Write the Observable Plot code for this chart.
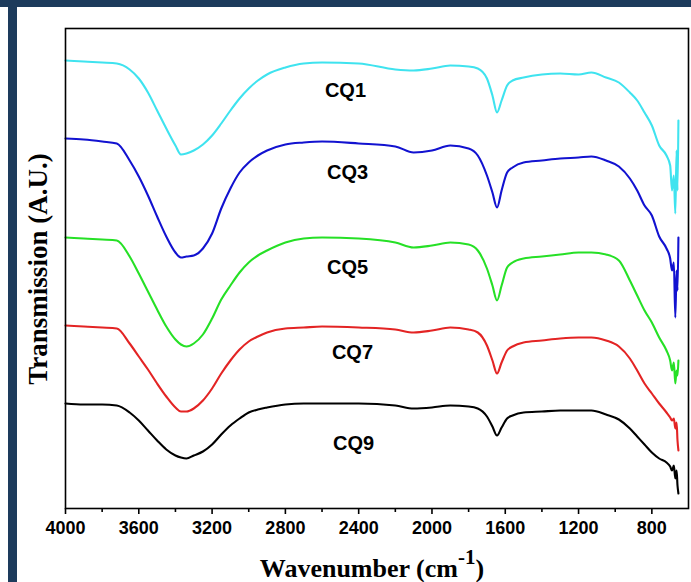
<!DOCTYPE html>
<html>
<head>
<meta charset="utf-8">
<script src="https://cdn.jsdelivr.net/npm/d3@7"></script>
<script src="https://cdn.jsdelivr.net/npm/@observablehq/plot@0.6"></script>
<style>
  html, body { margin: 0; padding: 0; background: #ffffff; }
  #wrap { position: relative; width: 691px; height: 582px; overflow: hidden; background: #ffffff; }
  #chart { position: absolute; left: 0; top: 0; }
  .band { position: absolute; background: #1d3b5c; }
</style>
</head>
<body>
<div id="wrap">
  <div id="chart"></div>
  <div class="band" style="left:0;top:0;width:691px;height:7px;"></div>
  <div class="band" style="left:8px;top:0;width:9px;height:582px;"></div>
</div>
<script>
// Wavenumber grid (cm^-1)
const wavenumber = [4000, 3900, 3800, 3720, 3650, 3600, 3550, 3500, 3450, 3400, 3370, 3340, 3300, 3250, 3200, 3150, 3100, 3050, 3000, 2950, 2900, 2800, 2700, 2600, 2400, 2200, 2100, 2000, 1900, 1800, 1750, 1700, 1670, 1645, 1620, 1590, 1560, 1500, 1400, 1300, 1200, 1130, 1050, 980, 920, 880, 840, 800, 760, 720, 700, 690, 680, 672, 665, 660, 655];

// Transmission (A.U.), curves stacked with offsets
const cq1 = [448, 447, 446, 445, 439, 430, 416, 398, 380, 363, 354, 355, 358, 364, 373, 385, 398, 410, 420, 428, 434, 441, 445, 446, 445, 439, 438, 440, 443, 442, 440, 430, 413, 396, 408, 423, 428, 431, 434, 435, 434, 436, 431, 426, 416, 408, 396, 383, 363, 353, 343, 318, 333, 295, 358, 318, 388];
const cq3 = [370, 369, 367, 365, 348, 332, 313, 292, 272, 256, 251, 252, 253, 260, 275, 300, 320, 336, 346, 353, 358, 364, 366, 367, 365, 362, 356, 358, 363, 360, 353, 333, 316, 301, 318, 336, 341, 346, 348, 350, 351, 352, 348, 342, 330, 318, 303, 293, 272, 260, 250, 238, 246, 191, 238, 218, 271];
const cq5 = [271, 270, 269, 268, 252, 235, 217, 199, 182, 169, 164, 162, 165, 174, 190, 209, 223, 236, 246, 253, 258, 266, 270, 271, 270, 266, 261, 263, 266, 264, 258, 240, 223, 208, 223, 241, 246, 250, 252, 254, 256, 256, 254, 248, 228, 213, 198, 186, 171, 158, 148, 138, 146, 125, 138, 133, 148];
const cq7 = [183, 182, 181, 180, 165, 152, 139, 125, 112, 101, 97, 97, 100, 108, 120, 135, 148, 159, 167, 172, 176, 180, 181, 182, 181, 179, 176, 178, 181, 179, 176, 163, 148, 135, 146, 158, 162, 166, 168, 170, 171, 171, 168, 162, 150, 138, 125, 115, 105, 96, 91, 88, 90, 80, 86, 68, 58];
const cq9 = [105, 104, 104, 103, 96, 88, 78, 68, 59, 53, 51, 50, 53, 57, 64, 74, 83, 90, 96, 99, 101, 104, 105, 105, 105, 103, 100, 101, 103, 102, 100, 92, 82, 73, 81, 90, 93, 96, 97, 98, 98, 98, 94, 89, 80, 72, 64, 56, 50, 46, 42, 38, 43, 30, 38, 23, 15];

const seriesNames = ["CQ1", "CQ3", "CQ5", "CQ7", "CQ9"];
const seriesValues = [cq1, cq3, cq5, cq7, cq9];
const seriesColors = ["#3fe3ef", "#1212d0", "#26e026", "#e32424", "#000000"];

// Curve label anchors
const labelWavenumber = [2472, 2461, 2461, 2434, 2428];
const labelTransmission = [418, 336, 241, 156, 65];

const xTicks = [4000, 3600, 3200, 2800, 2400, 2000, 1600, 1200, 800];
const xMinorTicks = [3800, 3400, 3000, 2600, 2200, 1800, 1400, 1000];

const rows = [];
seriesNames.forEach((name, i) => {
  wavenumber.forEach((w, j) => rows.push({series: name, w, t: seriesValues[i][j]}));
});
const labels = seriesNames.map((name, i) => ({series: name, w: labelWavenumber[i], t: labelTransmission[i]}));

const chart = Plot.plot({
  width: 691,
  height: 582,
  marginLeft: 65,
  marginRight: 3,
  marginTop: 28,
  marginBottom: 74,
  style: {background: "transparent", fontFamily: "'Liberation Sans', Arial, sans-serif", color: "#000"},
  x: {domain: [4000, 600]},
  y: {domain: [0, 480], axis: null},
  color: {domain: seriesNames, range: seriesColors},
  marks: [
    Plot.line(rows, {x: "w", y: "t", z: "series", stroke: "series", strokeWidth: 2.1, curve: "monotone-x"}),
    Plot.frame({stroke: "#000", strokeWidth: 1.6}),
    Plot.axisX({ticks: xTicks, tickSize: 6, tickPadding: 7, tickFormat: d => String(d), fontSize: 18, fontWeight: "bold", strokeWidth: 1.6, label: null}),
    Plot.axisX({ticks: xMinorTicks, tickSize: 4, tickFormat: () => "", strokeWidth: 1.6, label: null}),
    Plot.text(labels, {x: "w", y: "t", text: "series", fontSize: 20, fontWeight: "bold", fill: "#000"})
  ]
});
document.getElementById("chart").appendChild(chart);

const svg = d3.select(chart);
const xl = svg.append("text")
  .attr("x", 372).attr("y", 577)
  .attr("text-anchor", "middle")
  .style("font-family", "'Liberation Serif', 'Times New Roman', serif")
  .style("font-weight", "bold").style("font-size", "26px").attr("fill", "#000");
xl.append("tspan").text("Wavenumber (cm");
xl.append("tspan").attr("dy", -13).style("font-size", "21px").text("-1");
xl.append("tspan").attr("dy", 13).text(")");

svg.append("text")
  .attr("transform", "translate(47,269) rotate(-90)")
  .attr("text-anchor", "middle")
  .style("font-family", "'Liberation Serif', 'Times New Roman', serif")
  .style("font-weight", "bold").style("font-size", "27px").attr("fill", "#000")
  .text("Transmission (A.U.)");
</script>
</body>
</html>
